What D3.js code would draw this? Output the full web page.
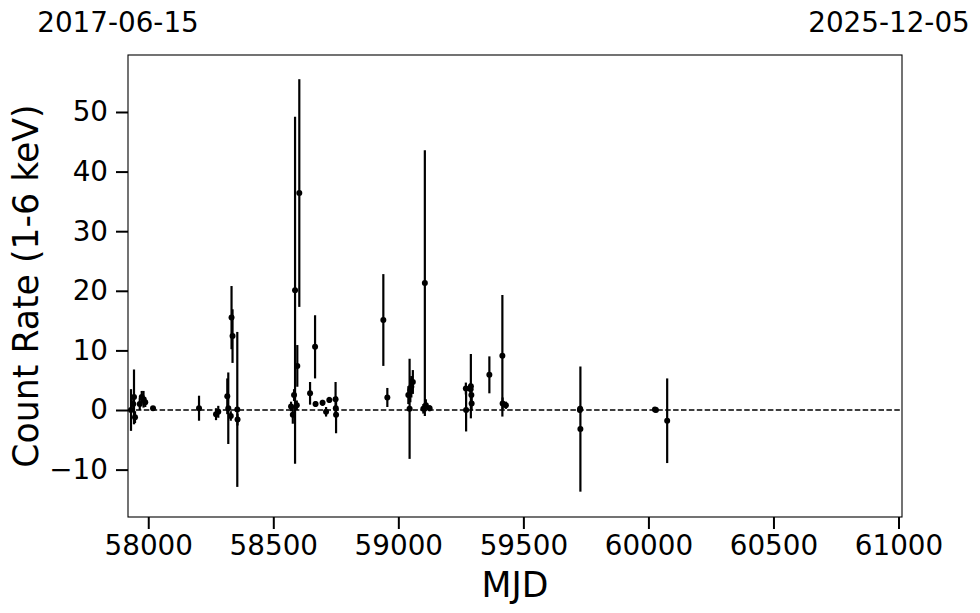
<!DOCTYPE html>
<html><head><meta charset="utf-8">
<script src="https://cdn.jsdelivr.net/npm/d3@7"></script>
<style>body{margin:0;background:#fff}svg{display:block}text{font-family:"DejaVu Sans",sans-serif}</style>
</head><body>
<script>
const mjd = [57931,57940,57943,57947,57966,57974,57981,57988,58019,
  58203,58271,58280,58316,58320,58330,58333,58337,58356,58357,
  58571,58578,58583,58587,58594,58596,58604,58647,58667,58669,58697,58711,58724,58749,58750,58751,
  58940,58956,59040,59045,59048,59052,59058,59100,59106,59110,59125,
  59270,59271,59289,59290,59292,59293,59364,59416,59417,59430,
  59726,59727,59728,60026,60030,60075];
const rate = [0.0,1.0,2.2,-1.2,1.0,2.2,1.8,1.3,0.3,
  0.3,-0.7,-0.3,2.3,0.3,-1.0,15.5,12.4,0.1,-1.6,
  0.6,-0.8,2.5,20.1,0.8,7.4,36.4,2.8,10.6,1.0,1.2,-0.3,1.7,1.8,0.3,-0.8,
  15.1,2.1,2.5,0.2,3.3,3.9,4.7,0.2,21.3,0.8,0.3,
  3.6,0.0,3.5,4.0,2.5,1.1,5.9,9.1,1.1,0.8,
  0.0,0.2,-3.2,0.1,0.0,-1.8];
const err = [3.5,1.0,4.6,1.0,1.0,1.0,1.4,0.8,0.3,
  2.1,1.0,1.0,3.0,6.0,0.8,5.3,4.5,13.0,1.0,
  0.8,1.5,1.0,29.1,0.8,3.5,19.1,1.9,5.3,0.5,0.5,0.8,0.5,2.9,0.5,3.1,
  7.7,1.6,1.5,8.4,2.0,1.8,2.0,0.8,22.3,1.0,0.5,
  1.0,3.6,1.0,5.4,1.0,1.2,3.1,10.2,1.0,0.6,
  0.5,0.5,10.5,0.3,0.3,7.1];
const xTicks = [58000,58500,59000,59500,60000,60500,61000];
const yTicks = [-10,0,10,20,30,40,50];
const topLabels = ["2017-06-15","2025-12-05"];
const xDomain = [57919,61014];
const yDomain = [-17.95,59.56];

const W=980,H=613, L=128,R=902,T=55,B=517;
const svg=d3.select("body").append("svg").attr("width",W).attr("height",H);
const x=d3.scaleLinear().domain(xDomain).range([L,R]);
const y=d3.scaleLinear().domain(yDomain).range([B,T]);
const fs=27.8;

svg.append("line").attr("x1",L).attr("x2",R).attr("y1",y(0)).attr("y2",y(0))
  .attr("stroke","#000").attr("stroke-width",1.5).attr("stroke-dasharray","5.5,2.4");

const data=mjd.map((m,i)=>({m,r:rate[i],e:err[i]}));
svg.append("g").selectAll("line").data(data).join("line")
  .attr("x1",d=>x(d.m)).attr("x2",d=>x(d.m))
  .attr("y1",d=>y(d.r-d.e)).attr("y2",d=>y(d.r+d.e))
  .attr("stroke","#000").attr("stroke-width",2.2);
svg.append("g").selectAll("circle").data(data).join("circle")
  .attr("cx",d=>x(d.m)).attr("cy",d=>y(d.r)).attr("r",3).attr("fill","#000");

svg.append("rect").attr("x",L).attr("y",T).attr("width",R-L).attr("height",B-T)
  .attr("fill","none").attr("stroke","#000").attr("stroke-width",1.1);

const xa=svg.append("g").attr("transform",`translate(0,${B})`)
  .call(d3.axisBottom(x).tickValues(xTicks).tickSize(12).tickPadding(6).tickFormat(d3.format("d")));
const ya=svg.append("g").attr("transform",`translate(${L},0)`)
  .call(d3.axisLeft(y).tickValues(yTicks).tickSize(12).tickPadding(8));
[xa,ya].forEach(a=>{a.select(".domain").remove();
  a.selectAll(".tick line").attr("stroke","#000").attr("stroke-width",2);
  a.selectAll(".tick text").attr("fill","#000").style("font-size",fs+"px").style("font-family","DejaVu Sans");});

svg.append("text").attr("x",118).attr("y",32).attr("text-anchor","middle").style("font-size",fs+"px").text(topLabels[0]);
svg.append("text").attr("x",889).attr("y",32).attr("text-anchor","middle").style("font-size",fs+"px").text(topLabels[1]);

svg.append("text").attr("x",(L+R)/2).attr("y",597).attr("text-anchor","middle").style("font-size","34.7px").text("MJD");
svg.append("text").attr("transform",`translate(38,${(T+B)/2}) rotate(-90)`).attr("text-anchor","middle")
  .style("font-size","34.7px").text("Count Rate (1-6 keV)");
</script>
</body></html>
